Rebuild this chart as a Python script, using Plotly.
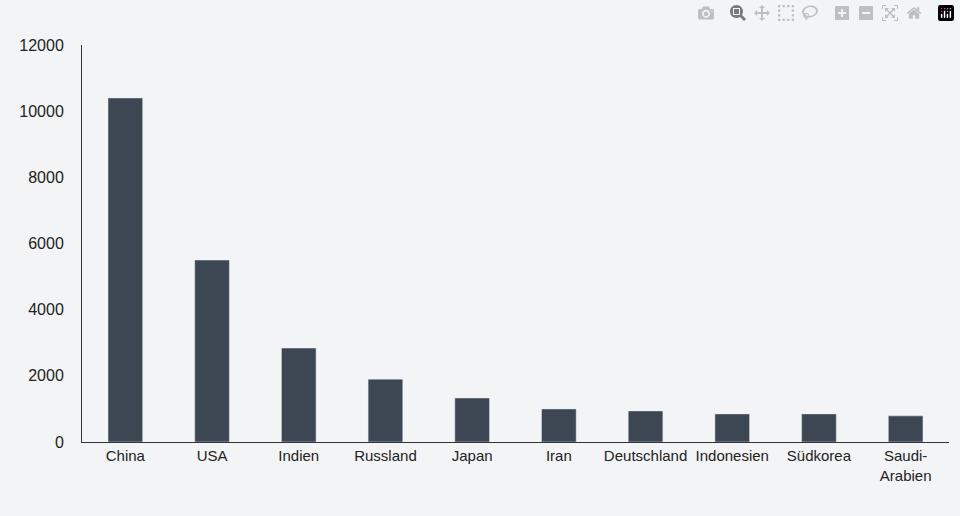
import plotly.graph_objects as go

countries = ["China", "USA", "Indien", "Russland", "Japan", "Iran",
             "Deutschland", "Indonesien", "Südkorea", "Saudi-<br>Arabien"]
values = [10400, 5500, 2840, 1900, 1330, 1000, 940, 850, 850, 790]

fig = go.Figure(go.Bar(x=countries, y=values, marker_color="#3d4754", width=0.4))

fig.update_layout(
    width=960, height=516,
    paper_bgcolor="#f3f4f6", plot_bgcolor="#f3f4f6",
    margin=dict(l=82, r=11, t=45, b=74),
    font=dict(family="Liberation Sans, Arial", size=16, color="#222"),
    showlegend=False,
)
fig.update_xaxes(showline=True, linecolor="#333", linewidth=1, ticks="", tickfont=dict(size=15))
fig.update_yaxes(range=[0, 12000], dtick=2000, showgrid=False, zeroline=False,
                 tickformat="d", showline=True, linecolor="#333", linewidth=1, ticks="",
                 ticklabelstandoff=14)

fig.write_html("out.html",
               post_script="document.body.style.margin='0';document.body.style.background='#f3f4f6';")
